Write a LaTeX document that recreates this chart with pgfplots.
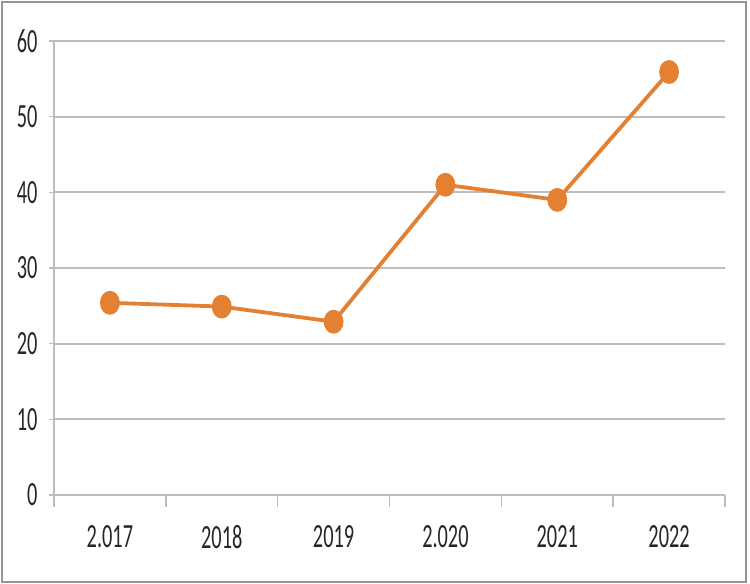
\documentclass[border=0pt]{standalone}
\usepackage{fontspec}
\usepackage{pgfplots}
\pgfplotsset{compat=1.18}
\newfontfamily\lab{Carlito}[FakeStretch=0.6]
\definecolor{linec}{RGB}{228,128,50}
\definecolor{gridc}{RGB}{190,190,190}
\definecolor{framec}{RGB}{150,150,150}

\begin{document}
\begin{tikzpicture}[x=1bp,y=1bp]
\useasboundingbox (-54,-89) rectangle (696,495);
\draw[line width=2bp, framec] (-52,-87) rectangle (692,493);
\begin{axis}[at={(0,0)}, anchor=south west,
  scale only axis, width=671bp, height=454bp,
  xmin=-0.5, xmax=5.5, ymin=0, ymax=60,
  axis x line*=bottom, axis y line*=left,
  axis line style={gridc, line width=1.5bp},
  ytick={0,10,...,60}, ymajorgrids,
  grid style={gridc, line width=2bp},
  tick align=outside,
  ytick style={gridc, line width=1.5bp}, major tick length=5bp,
  xtick={0,...,5}, xticklabels={2.017,2018,2019,2.020,2021,2022},
  major x tick style={draw=none},
  extra x ticks={-0.5,0.5,...,5.5}, extra x tick labels={,,,,,,},
  extra x tick style={major tick length=12bp, grid=none,
    major x tick style={draw=gridc, line width=1.5bp}},
  /pgf/number format/assume math mode=true,
  ticklabel style={font=\lab\fontsize{34}{40}\selectfont, text=black!85},
  xticklabel style={yshift=-22bp},
  yticklabel style={xshift=-8bp},
  clip=false]
\addplot[color=linec, line width=3.8bp, mark=*, mark size=10bp,
  mark options={xscale=0.8, fill=linec, draw=linec}]
  coordinates {(0,25.4) (1,24.9) (2,22.9) (3,41) (4,39) (5,55.9)};
\end{axis}
\end{tikzpicture}
\end{document}
